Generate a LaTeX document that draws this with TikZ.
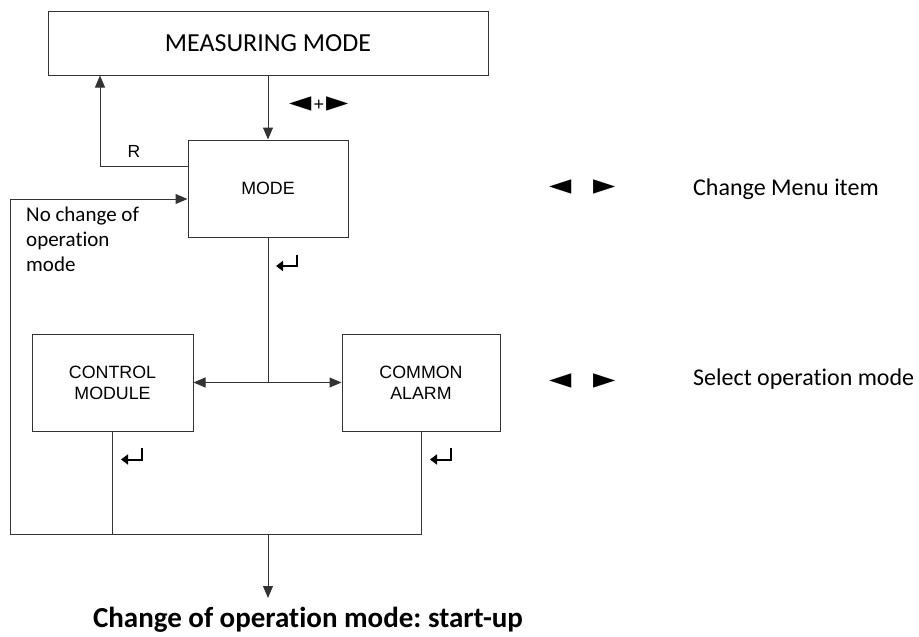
\documentclass[tikz,border=0pt]{standalone}
\usepackage{fontspec}
\setmainfont{Carlito}[Ligatures=NoCommon]
\newfontfamily\arialf{Liberation Sans}
\newfontfamily\djv{DejaVu Sans}
\usetikzlibrary{arrows.meta,calc}
\frenchspacing
\newcommand{\bigkey}[1]{{\djv\fontsize{29}{29}\selectfont #1}}
\tikzset{
  conn/.style={draw=black!80, line width=1pt},
  arr/.style={conn, -{Triangle[length=12pt,width=10pt]}},
  darr/.style={conn, {Triangle[length=12pt,width=10pt]}-{Triangle[length=12pt,width=10pt]}},
  box/.style={draw=black!80, line width=1pt, rectangle, inner sep=0pt, align=center,
    font=\arialf\fontsize{17.8}{21}\selectfont},
  txt/.style={inner sep=0pt, font=\fontsize{24}{28}\selectfont},
  keys/.style={inner sep=0pt},
  entersym/.pic={\draw[black, line width=2pt, -{Triangle[length=7pt,width=10pt]}]
      (10.5,-6) -- (10.5,5.5) -- (-10.5,5.5);}
}
\begin{document}
\begin{tikzpicture}[x=1pt,y=-1pt]
\useasboundingbox (0,0) rectangle (919,637);
% boxes
\node[box, minimum width=440pt, minimum height=64pt, font=\fontsize{26}{31}\selectfont] (meas) at (268,43) {MEASURING MODE};
\node[box, minimum width=160pt, minimum height=97pt] (mode) at (268,188.5) {MODE};
\node[box, minimum width=161pt, minimum height=97pt] (ctrl) at (112.5,382.5) {CONTROL\\MODULE};
\node[box, minimum width=158pt, minimum height=97pt] (alarm) at (421,382.5) {COMMON\\ALARM};
% labels
\node[inner sep=0pt, font=\arialf\fontsize{17.5}{21}\selectfont] (rlab) at (134,151) {R};
\node[keys] (k0) at (319,104) {\bigkey{◄}\hspace{2pt}{\arialf\fontsize{18}{18}\selectfont\raisebox{1pt}{+}}\hspace{2pt}\bigkey{►}};
\node[anchor=north west, align=left, inner sep=0pt, font=\fontsize{21}{25}\selectfont] (nochg) at (26,207) {No change of\\operation\\mode};
\node[keys] (k1) at (583,187) {\bigkey{◄}\hspace{22pt}\bigkey{►}};
\node[keys] (k2) at (583,381) {\bigkey{◄}\hspace{22pt}\bigkey{►}};
\node[txt, anchor=west] (t1) at (693,189) {Change Menu item};
\node[txt, anchor=west] (t2) at (693,379) {Select operation mode};
\node[inner sep=0pt, font=\bfseries\fontsize{29}{34}\selectfont] (title) at (308,620) {Change of operation mode: start-up};
% coordinates
\coordinate (rc) at (100,166);
\coordinate (lt) at (10,199);
\coordinate (lb) at (10,534);
\coordinate (tip) at (268,598);
% connectors
\draw[arr] (meas.south) -- (mode.north);
\draw[arr] (mode.west |- rc) -- (rc) -- (rc |- meas.south);
\draw[conn] (mode.south) -- (mode.south |- ctrl.east);
\draw[darr] (ctrl.east) -- (alarm.west);
\draw[conn] (ctrl.south) -- (ctrl.south |- lb);
\draw[arr] (alarm.south) -- (alarm.south |- lb) -- (lb) -- (lt) -- (mode.west |- lt);
\draw[arr] (mode.south |- lb) -- (tip);
% enter symbols
\pic at (286.5,260.5) {entersym};
\pic at (131.5,454) {entersym};
\pic at (440.5,454) {entersym};
\end{tikzpicture}
\end{document}
